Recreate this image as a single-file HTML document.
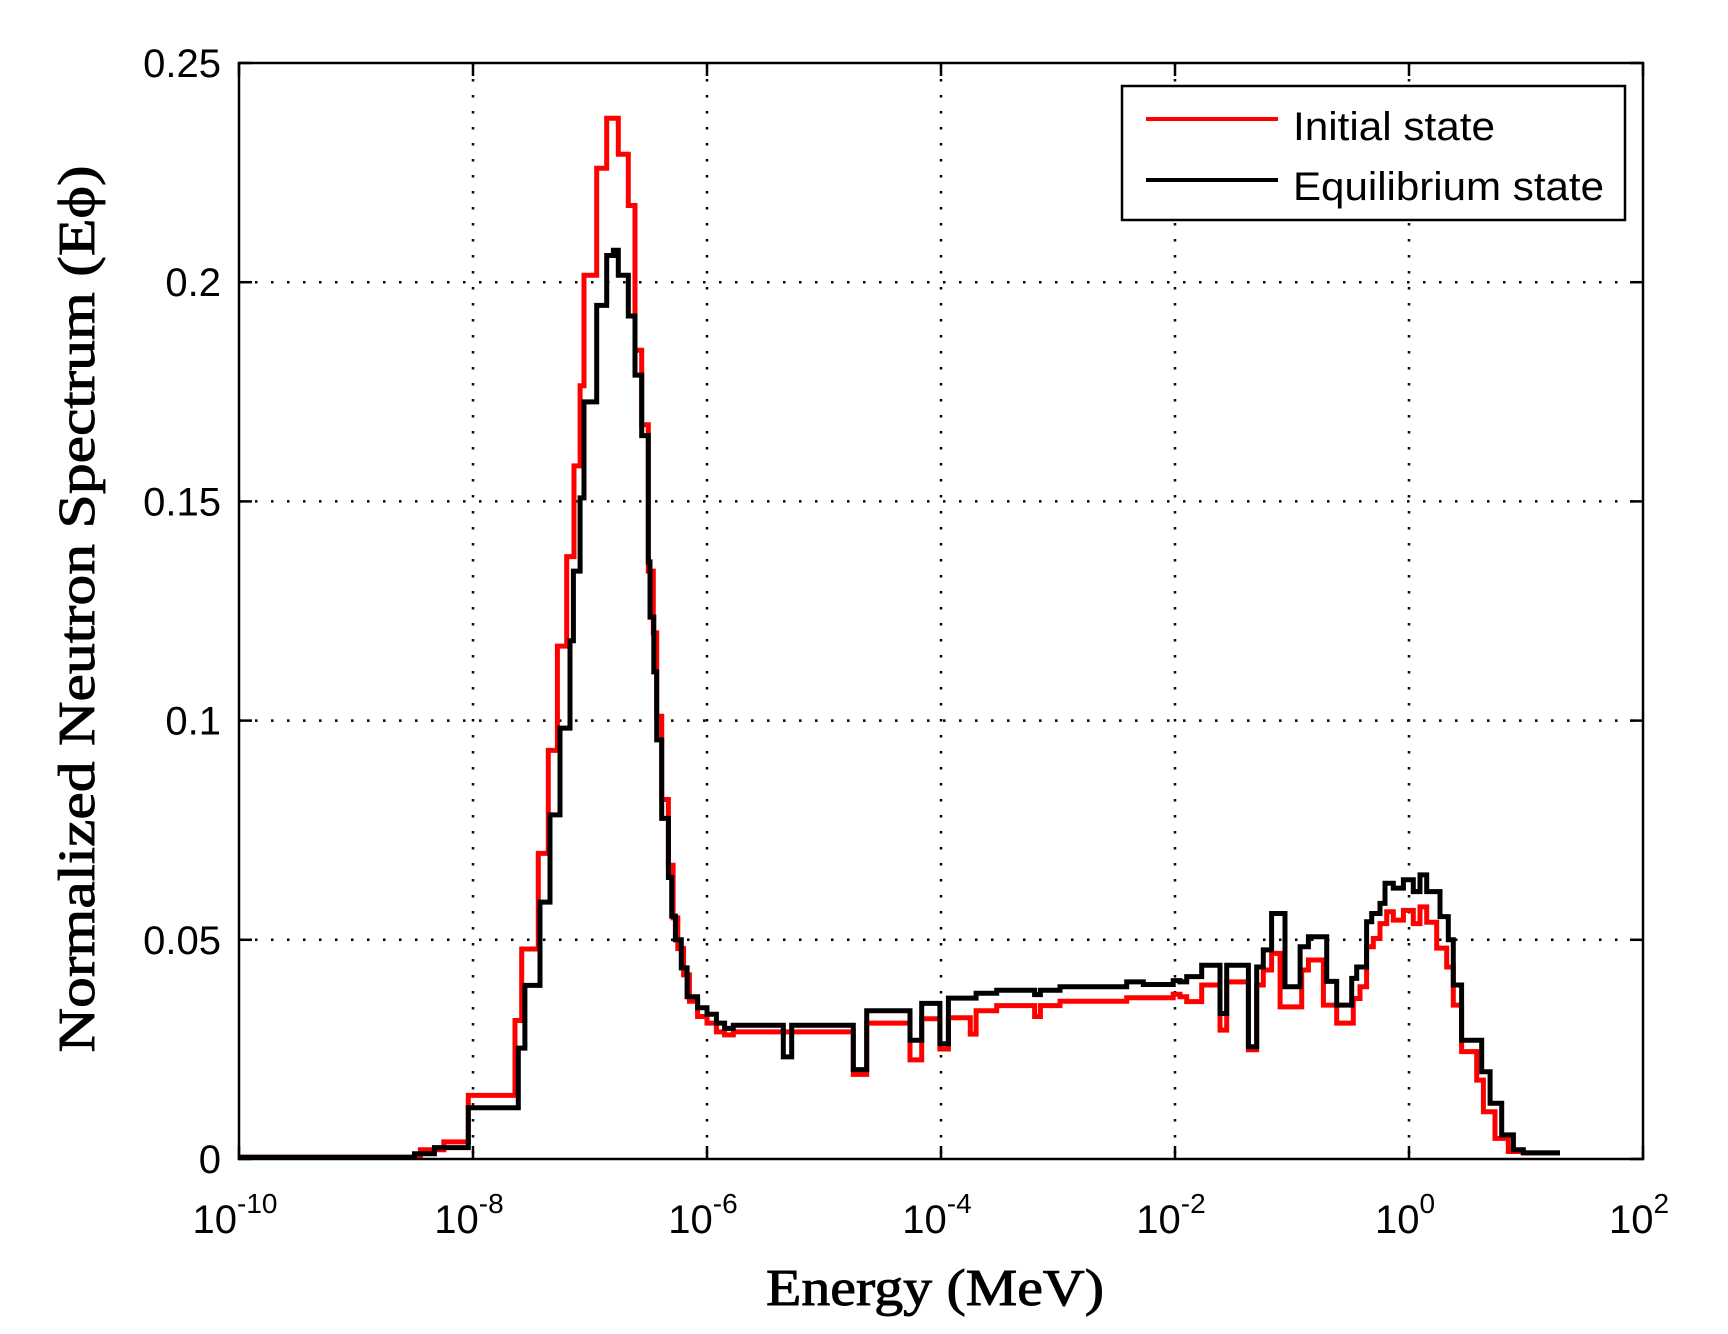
<!DOCTYPE html>
<html><head><meta charset="utf-8"><style>
html,body{margin:0;padding:0;background:#fff;}
svg{display:block;}
</style></head><body>
<svg id="chart" width="1728" height="1334" viewBox="0 0 1728 1334" xmlns="http://www.w3.org/2000/svg">
<rect x="0" y="0" width="1728" height="1334" fill="#fff"/>
<g id="grid"></g>
<g id="series"></g>
<g id="axes"></g>
<text x="935" y="1305" text-anchor="middle" font-family="Liberation Serif, serif" font-size="52" stroke="#000" stroke-width="0.9" textLength="338" lengthAdjust="spacingAndGlyphs">Energy (MeV)</text>
<text transform="translate(94,609) rotate(-90)" text-anchor="middle" font-family="Liberation Serif, serif" font-size="52" stroke="#000" stroke-width="0.9" textLength="887" lengthAdjust="spacingAndGlyphs">Normalized Neutron Spectrum (Eϕ)</text>
<g>
<rect x="1122" y="86" width="503" height="134" fill="#fff" stroke="#000" stroke-width="2.5"/>
<line x1="1146" y1="119" x2="1278" y2="119" stroke="#ff0000" stroke-width="4"/>
<text x="1293" y="140" font-family="Liberation Sans, sans-serif" font-size="40" textLength="202" lengthAdjust="spacingAndGlyphs">Initial state</text>
<line x1="1146" y1="180" x2="1278" y2="180" stroke="#000" stroke-width="4"/>
<text x="1293" y="200" font-family="Liberation Sans, sans-serif" font-size="40" textLength="311" lengthAdjust="spacingAndGlyphs">Equilibrium state</text>
</g>
</svg>
<script>
const xTickExps = [-10, -8, -6, -4, -2, 0, 2];
const yTicks = [0, 0.05, 0.1, 0.15, 0.2, 0.25];
const yTickLabels = ["0", "0.05", "0.1", "0.15", "0.2", "0.25"];

const redEdges = [-10,-8.45,-8.25,-8.04,-7.641,-7.584,-7.442,-7.356,-7.279,-7.199,-7.137,-7.085,-7.051,-6.943,-6.857,-6.758,-6.673,-6.615,-6.558,-6.502,-6.459,-6.43,-6.387,-6.33,-6.29,-6.25,-6.2,-6.15,-6.08,-6.0,-5.92,-5.85,-5.775,-4.75,-4.635,-4.265,-4.165,-4.009,-3.937,-3.75,-3.70,-3.524,-3.2,-3.15,-2.983,-2.413,-2.015,-1.957,-1.900,-1.772,-1.615,-1.558,-1.373,-1.302,-1.245,-1.174,-1.102,-0.917,-0.860,-0.732,-0.618,-0.476,-0.419,-0.362,-0.305,-0.248,-0.191,-0.134,-0.048,0.037,0.094,0.151,0.237,0.322,0.379,0.450,0.579,0.636,0.735,0.849,0.977,1.291];
const redValues = [0.0004,0.0021,0.0039,0.0145,0.0316,0.0479,0.0697,0.0932,0.117,0.1374,0.1581,0.1764,0.2016,0.2260,0.2374,0.2292,0.2175,0.1845,0.1675,0.1341,0.12,0.101,0.082,0.067,0.055,0.048,0.042,0.036,0.0325,0.031,0.029,0.0283,0.029,0.0193,0.031,0.0226,0.032,0.0251,0.0322,0.0285,0.0338,0.035,0.0325,0.035,0.036,0.0368,0.0376,0.037,0.0359,0.0397,0.0294,0.0404,0.0249,0.0397,0.0431,0.0469,0.0347,0.0431,0.0454,0.0351,0.031,0.0366,0.0393,0.0484,0.0503,0.0537,0.0564,0.0545,0.0567,0.0537,0.0575,0.054,0.0481,0.0438,0.0351,0.0245,0.018,0.0108,0.0047,0.0017,0.0014];

const blackEdges = [-10,-8.5,-8.33,-8.04,-7.613,-7.556,-7.427,-7.342,-7.256,-7.171,-7.142,-7.085,-7.051,-6.943,-6.857,-6.80,-6.758,-6.673,-6.615,-6.558,-6.502,-6.487,-6.455,-6.43,-6.387,-6.33,-6.302,-6.27,-6.22,-6.17,-6.08,-6.0,-5.92,-5.85,-5.775,-5.348,-5.276,-4.75,-4.635,-4.265,-4.165,-4.009,-3.937,-3.7,-3.524,-3.2,-3.15,-2.983,-2.413,-2.271,-2.015,-1.957,-1.900,-1.772,-1.615,-1.558,-1.373,-1.302,-1.245,-1.174,-1.060,-0.931,-0.860,-0.703,-0.618,-0.490,-0.447,-0.362,-0.319,-0.248,-0.205,-0.134,-0.048,0.037,0.094,0.151,0.265,0.336,0.379,0.450,0.621,0.693,0.792,0.892,0.977,1.291];
const blackValues = [0.0004,0.0012,0.0026,0.0117,0.0253,0.0396,0.0586,0.0785,0.0983,0.1182,0.1341,0.1508,0.1727,0.1947,0.2061,0.2073,0.2016,0.1923,0.1788,0.1650,0.1362,0.1236,0.1111,0.0956,0.0777,0.0642,0.0554,0.05,0.0436,0.037,0.0345,0.033,0.031,0.0298,0.0305,0.0233,0.0305,0.0204,0.0338,0.0271,0.0355,0.0263,0.0367,0.0378,0.0385,0.0375,0.0385,0.0393,0.0404,0.0398,0.0407,0.0404,0.0416,0.0442,0.0332,0.0442,0.0256,0.0438,0.0477,0.056,0.0393,0.0484,0.0507,0.0405,0.0351,0.0412,0.0438,0.0541,0.056,0.0583,0.0629,0.0618,0.0637,0.061,0.0648,0.061,0.0553,0.05,0.0397,0.0271,0.0199,0.0127,0.0055,0.0021,0.0014];

const NS = "http://www.w3.org/2000/svg";
const L = 239, R = 1643, T = 63, B = 1159;
const xMin = -10, xMax = 2, yMin = 0, yMax = 0.25;
function xScale(e){ return L + (e - xMin) / (xMax - xMin) * (R - L); }
function yScale(v){ return B - (v - yMin) / (yMax - yMin) * (B - T); }
function mk(tag, attrs, parent){ const el = document.createElementNS(NS, tag); for (const k in attrs) el.setAttribute(k, attrs[k]); parent.appendChild(el); return el; }

const grid = document.getElementById('grid');
const axes = document.getElementById('axes');
const series = document.getElementById('series');

xTickExps.forEach(function(e){
  const x = xScale(e);
  if (e > xMin && e < xMax) {
    const g = mk('line', {x1:x, y1:T, x2:x, y2:B, stroke:'#000', 'stroke-width':2.5, 'stroke-dasharray':'2.5,13.5'}, grid);
    
    
  }
  const t1 = mk('line', {x1:x, y1:B, x2:x, y2:B-13, stroke:'#000', 'stroke-width':2.5}, axes);
  
  
  const t2 = mk('line', {x1:x, y1:T, x2:x, y2:T+13, stroke:'#000', 'stroke-width':2.5}, axes);
  
  
  const lab = mk('text', {x:x-4, y:1233, 'text-anchor':'middle', 'font-family':'Liberation Sans, sans-serif', 'font-size':40}, axes);
  
  
  lab.appendChild(document.createTextNode('10'));
  const sup = mk('tspan', {dy:-20, 'font-size':28}, lab);
  sup.textContent = String(e);
});

yTicks.forEach(function(v, i){
  const y = yScale(v);
  if (v > yMin && v < yMax) {
    const g = mk('line', {x1:L, y1:y, x2:R, y2:y, stroke:'#000', 'stroke-width':2.5, 'stroke-dasharray':'2.5,13.5'}, grid);
    
    
  }
  const t1 = mk('line', {x1:L, y1:y, x2:L+13, y2:y, stroke:'#000', 'stroke-width':2.5}, axes);
  
  
  const t2 = mk('line', {x1:R, y1:y, x2:R-13, y2:y, stroke:'#000', 'stroke-width':2.5}, axes);
  
  
  const lab = mk('text', {x:221, y:y+14, 'text-anchor':'end', 'font-family':'Liberation Sans, sans-serif', 'font-size':40}, axes);
  
  
  lab.textContent = yTickLabels[i];
});

const box = mk('rect', {x:L, y:T, width:R-L, height:B-T, fill:'none', stroke:'#000', 'stroke-width':2.5}, axes);



function stepPath(edges, values){
  let d = 'M' + xScale(edges[0]).toFixed(1) + ',' + yScale(values[0]).toFixed(1);
  for (let i = 0; i < values.length; i++) {
    const y = yScale(values[i]).toFixed(1);
    if (i > 0) d += ' V' + y;
    d += ' H' + xScale(edges[i+1]).toFixed(1);
  }
  return d;
}
const redPath = mk('path', {d:stepPath(redEdges, redValues), fill:'none', stroke:'#ff0000', 'stroke-width':5, 'stroke-linejoin':'miter'}, series);


const blackPath = mk('path', {d:stepPath(blackEdges, blackValues), fill:'none', stroke:'#000', 'stroke-width':5, 'stroke-linejoin':'miter'}, series);


</script>
</body></html>
